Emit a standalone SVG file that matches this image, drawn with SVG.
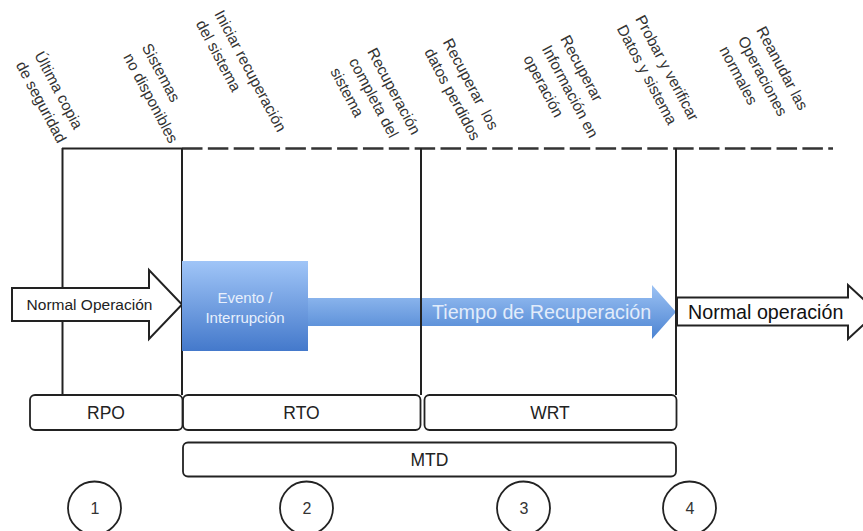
<svg xmlns="http://www.w3.org/2000/svg" width="863" height="531" viewBox="0 0 863 531">
  <defs>
    <linearGradient id="gBox" x1="0" y1="0" x2="0" y2="1">
      <stop offset="0" stop-color="#a0c5f7"/>
      <stop offset="1" stop-color="#4479cb"/>
    </linearGradient>
    <linearGradient id="gArrow" x1="0" y1="0" x2="0" y2="1">
      <stop offset="0" stop-color="#9cc2f4"/>
      <stop offset="1" stop-color="#4c84d2"/>
    </linearGradient>
    <style>
      text { font-family: "Liberation Sans", Arial, sans-serif; }
      .lbl { font-size: 15.5px; fill: #333333; }
      .line { stroke: #222222; stroke-width: 2; fill: none; }
      .dash { stroke: #333333; stroke-width: 2.4; fill: none; stroke-dasharray: 20.5 5.35; }
      .box { fill: #ffffff; stroke: #222222; stroke-width: 1.8; }
      .boxtxt { font-size: 17.5px; fill: #222222; text-anchor: middle; }
      .circ { fill: none; stroke: #222222; stroke-width: 1.8; }
      .num { font-size: 16px; fill: #333333; text-anchor: middle; }
      .warrow { fill: #ffffff; stroke: #222222; stroke-width: 2; stroke-linejoin: miter; }
    </style>
  </defs>

  <!-- rotated milestone labels -->
  <g id="lbl-ultima-copia">
    <text class="lbl" transform="translate(34,55) rotate(62)"><tspan x="0" y="0">Última copia</tspan><tspan x="0" dy="21">de seguridad</tspan></text>
  </g>
  <g id="lbl-sistemas">
    <text class="lbl" transform="translate(141.5,47) rotate(62)"><tspan x="0" y="0">Sistemas</tspan><tspan x="0" dy="21">no disponibles</tspan></text>
  </g>
  <g id="lbl-iniciar">
    <text class="lbl" transform="translate(214,13.7) rotate(62)"><tspan x="0" y="0">Iniciar recuperación</tspan><tspan x="0" dy="21">del sistema</tspan></text>
  </g>
  <g id="lbl-recuperacion">
    <text class="lbl" transform="translate(367,51.5) rotate(62)"><tspan x="0" y="0">Recuperación</tspan><tspan x="0" dy="21">completa del</tspan><tspan x="0" dy="21">sistema</tspan></text>
  </g>
  <g id="lbl-recuperar-datos">
    <text class="lbl" xml:space="preserve" transform="translate(442.5,42) rotate(62)"><tspan x="0" y="0">Recuperar  los</tspan><tspan x="0" dy="21">datos perdidos</tspan></text>
  </g>
  <g id="lbl-recuperar-info">
    <text class="lbl" transform="translate(560,38.8) rotate(62)"><tspan x="0" y="0">Recuperar</tspan><tspan x="0" dy="21">Información en</tspan><tspan x="0" dy="21">operación</tspan></text>
  </g>
  <g id="lbl-probar">
    <text class="lbl" transform="translate(635,18.7) rotate(62)"><tspan x="0" y="0">Probar y verificar</tspan><tspan x="0" dy="21">Datos y sistema</tspan></text>
  </g>
  <g id="lbl-reanudar">
    <text class="lbl" transform="translate(756,30) rotate(62)"><tspan x="0" y="0">Reanudar las</tspan><tspan x="0" dy="21">Operaciones</tspan><tspan x="0" dy="21">normales</tspan></text>
  </g>

  <!-- recovery time arrow (under the timeline lines) -->
  <g id="tiempo-recuperacion">
    <path d="M308,298 L652,298 L652,285 L676,312 L652,339 L652,326 L308,326 Z" fill="url(#gArrow)"/>
    <text x="432" y="319" style="font-size:19.7px; fill:#e2ecfb">Tiempo de Recuperación</text>
  </g>

  <!-- connectors: timeline lines -->
  <g id="connectors">
    <line class="line" x1="62" y1="148.5" x2="182" y2="148.5"/>
    <line class="dash" x1="182" y1="148.5" x2="833" y2="148.5"/>
    <line class="line" x1="62.5" y1="148" x2="62.5" y2="395"/>
    <line class="line" x1="182" y1="148" x2="182" y2="395"/>
    <line class="line" x1="421" y1="148" x2="421" y2="395"/>
    <line class="line" x1="676" y1="148" x2="676" y2="395"/>
  </g>

  <g id="normal-operacion-left">
    <path class="warrow" d="M12,288 L149,288 L149,270 L182,304.5 L149,339 L149,321 L12,321 Z"/>
    <text x="89.5" y="310" style="font-size:15.5px; fill:#222222; text-anchor:middle">Normal Operación</text>
  </g>

  <g id="normal-operacion-right">
    <path class="warrow" d="M677,297.5 L848,297.5 L848,285 L877,312 L848,339 L848,325.5 L677,325.5 Z"/>
    <text x="688" y="319" style="font-size:19.7px; fill:#111111">Normal operación</text>
  </g>

  <g id="evento">
    <rect x="182" y="261" width="126" height="90" fill="url(#gBox)"/>
    <text x="245" y="302.5" style="font-size:15px; fill:#e8f0fc; text-anchor:middle">Evento /</text>
    <text x="245" y="322.5" style="font-size:15px; fill:#e8f0fc; text-anchor:middle">Interrupción</text>
  </g>

  <!-- interval boxes -->
  <g id="rpo">
    <rect class="box" x="30" y="395" width="152.5" height="35" rx="5"/>
    <text class="boxtxt" x="106" y="419">RPO</text>
  </g>
  <g id="rto">
    <rect class="box" x="183" y="395" width="237.5" height="35" rx="5"/>
    <text class="boxtxt" x="301.5" y="419">RTO</text>
  </g>
  <g id="wrt">
    <rect class="box" x="424.5" y="395" width="252" height="35" rx="5"/>
    <text class="boxtxt" x="550" y="419">WRT</text>
  </g>
  <g id="mtd">
    <rect class="box" x="183" y="442.5" width="493" height="34" rx="5"/>
    <text class="boxtxt" x="429.5" y="465.5">MTD</text>
  </g>

  <!-- numbered phases -->
  <g id="fase-1">
    <circle class="circ" cx="94.5" cy="508" r="26.5"/>
    <text class="num" x="95" y="513.5">1</text>
  </g>
  <g id="fase-2">
    <circle class="circ" cx="306.5" cy="508" r="26.5"/>
    <text class="num" x="307" y="513.5">2</text>
  </g>
  <g id="fase-3">
    <circle class="circ" cx="523.5" cy="508" r="26.5"/>
    <text class="num" x="524" y="513.5">3</text>
  </g>
  <g id="fase-4">
    <circle class="circ" cx="689.5" cy="508" r="26.5"/>
    <text class="num" x="690" y="513.5">4</text>
  </g>
</svg>
